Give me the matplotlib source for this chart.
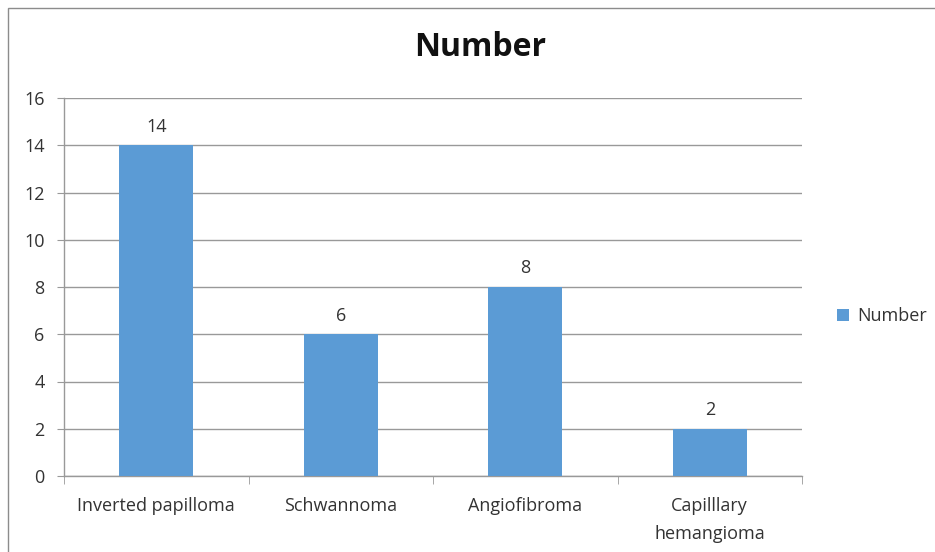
import matplotlib
matplotlib.use("Agg")
import matplotlib.pyplot as plt
from matplotlib.patches import Rectangle, Patch

categories = ["Inverted papilloma", "Schwannoma", "Angiofibroma", "Capilllary\nhemangioma"]
values = [14, 6, 8, 2]
yticks = [0, 2, 4, 6, 8, 10, 12, 14, 16]
series_name = "Number"

W, H = 935, 552
fig = plt.figure(figsize=(W / 100, H / 100), dpi=100)
plt.rcParams["font.family"] = ["Open Sans", "DejaVu Sans"]

# outer chart frame
fig.patches.append(Rectangle((8 / W, -0.1), 1.2, (H - 8) / H + 0.1, transform=fig.transFigure,
                             fill=False, edgecolor="#8c8c8c", linewidth=1.0))

left, right, top, bottom = 64, 802, 98, 476
ax = fig.add_axes([left / W, 1 - bottom / H, (right - left) / W, (bottom - top) / H])

bar_color = "#5B9BD5"
grid_color = "#999999"
text_color = "#333333"
fs = 13
x = list(range(len(categories)))
bars = ax.bar(x, values, width=0.4, color=bar_color, zorder=3)

ax.set_xlim(-0.5, len(categories) - 0.5)
ax.set_ylim(0, 16)
ax.set_yticks(yticks)
ax.set_yticklabels([str(t) for t in yticks], fontsize=fs, color=text_color)
ax.yaxis.grid(True, color=grid_color, linewidth=1.0, zorder=0)
ax.tick_params(axis="y", length=5, color=grid_color, pad=9)

ax.set_xticks(x)
ax.set_xticklabels(categories, fontsize=fs, color=text_color, linespacing=1.75)
ax.tick_params(axis="x", length=0, pad=15)
ax.set_xticks([i - 0.5 for i in range(len(categories) + 1)], minor=True)
ax.tick_params(axis="x", which="minor", length=6, color=grid_color)

for side in ("top", "right"):
    ax.spines[side].set_visible(False)
for side in ("left", "bottom"):
    ax.spines[side].set_color(grid_color)
    ax.spines[side].set_linewidth(1.0)

for b, v in zip(bars, values):
    ax.annotate(str(v), (b.get_x() + b.get_width() / 2, v), xytext=(0, 7),
                textcoords="offset points", ha="center", va="bottom",
                fontsize=fs, color=text_color)

fig.text(480 / W, 1 - 48 / H, series_name, ha="center", va="center",
         fontsize=23, fontweight="bold", color="#111111")

fig.legend(handles=[Patch(facecolor=bar_color, label=series_name)],
           loc="center left", bbox_to_anchor=(821 / W, 1 - 316 / H),
           frameon=False, fontsize=fs, handlelength=0.65, handleheight=0.65,
           handletextpad=0.45, labelcolor=text_color)

fig.savefig("out.png", dpi=100)
